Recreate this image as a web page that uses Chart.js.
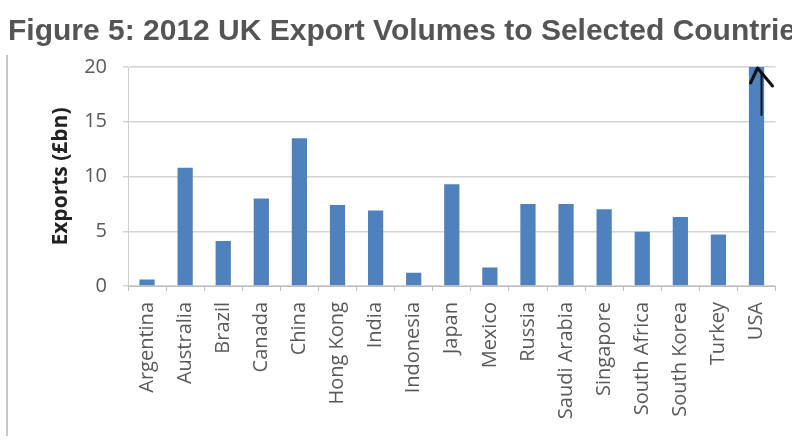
<!DOCTYPE html>
<html>
<head>
<meta charset="utf-8">
<script src="https://cdn.jsdelivr.net/npm/chart.js@4/dist/chart.umd.min.js"></script>
<style>
  html, body { margin: 0; padding: 0; background: #fff; }
  #wrap { width: 792px; height: 444px; position: relative; }
</style>
</head>
<body>
<div id="wrap"><canvas id="exportChart" width="792" height="444"></canvas></div>
<script>
const titleText = "Figure 5: 2012 UK Export Volumes to Selected Countries";
const countries = ["Argentina", "Australia", "Brazil", "Canada", "China", "Hong Kong", "India",
  "Indonesia", "Japan", "Mexico", "Russia", "Saudi Arabia", "Singapore", "South Africa",
  "South Korea", "Turkey", "USA"];
const exports2012 = [0.6, 10.8, 4.1, 8.0, 13.5, 7.4, 6.9, 1.2, 9.3, 1.7, 7.5, 7.5, 7.0, 4.95, 6.3, 4.7, 20];
const yTicks = [0, 5, 10, 15, 20];
const axisTitle = "Exports (£bn)";

const barBlue = "#4f81bd";
const labelGrey = "#595959";

// title, left frame line and the hand drawn arrow on the USA bar
const extras = {
  id: "extras",
  afterDraw(chart) {
    const ctx = chart.ctx;
    ctx.save();
    ctx.fillStyle = "#555555";
    ctx.font = "bold 30px 'Liberation Sans', Arial, sans-serif";
    ctx.textBaseline = "alphabetic";
    ctx.textAlign = "left";
    ctx.fillText(titleText, 8, 40);

    ctx.strokeStyle = "#c8c8c8";
    ctx.lineWidth = 2;
    ctx.beginPath();
    ctx.moveTo(7, 55);
    ctx.lineTo(7, 436);
    ctx.stroke();

    const last = countries.length - 1;
    const cx = chart.scales.x.getPixelForValue(last);
    const top = chart.scales.y.getPixelForValue(exports2012[last]);
    ctx.strokeStyle = "#111";
    ctx.lineWidth = 3;
    ctx.lineCap = "round";
    ctx.lineJoin = "round";
    ctx.beginPath();
    ctx.moveTo(cx - 6, top + 16);
    ctx.lineTo(cx + 1, top + 1);
    ctx.lineTo(cx + 16, top + 19);
    ctx.stroke();
    ctx.lineWidth = 2;
    ctx.beginPath();
    ctx.moveTo(cx + 5, top + 6);
    ctx.lineTo(cx + 5, top + 48);
    ctx.stroke();
    ctx.restore();
  }
};

new Chart(document.getElementById("exportChart"), {
  type: "bar",
  data: {
    labels: countries,
    datasets: [{
      data: exports2012,
      backgroundColor: barBlue,
      borderWidth: 0,
      barPercentage: 0.4,
      categoryPercentage: 1
    }]
  },
  options: {
    responsive: false,
    animation: false,
    events: [],
    layout: { padding: { top: 67, left: 8, right: 16, bottom: 0 } },
    plugins: {
      legend: { display: false },
      tooltip: { enabled: false },
      title: { display: false }
    },
    scales: {
      x: {
        afterFit: (s) => { s.height = 158; },
        grid: {
          display: true,
          drawOnChartArea: false,
          drawTicks: true,
          tickLength: 5,
          color: "#bfbfbf",
          offset: true
        },
        border: { color: "#bfbfbf", width: 1 },
        ticks: {
          autoSkip: false,
          minRotation: 90,
          maxRotation: 90,
          padding: 11,
          color: labelGrey,
          font: { family: "'Open Sans', sans-serif", size: 20 }
        }
      },
      y: {
        min: 0,
        max: 20,
        afterFit: (s) => { s.width = 120; },
        afterBuildTicks: (s) => { s.ticks = yTicks.map(v => ({ value: v })); },
        grid: {
          color: "#d4d4d4",
          lineWidth: 1.5,
          tickLength: 5
        },
        border: { color: "#cfcfcf", width: 1 },
        ticks: {
          padding: 16,
          color: labelGrey,
          font: { family: "'Open Sans', sans-serif", size: 20 }
        },
        title: {
          display: true,
          text: axisTitle,
          color: "#222",
          padding: { top: 40, bottom: 0 },
          font: { family: "'Open Sans', sans-serif", size: 21, weight: "bold" }
        }
      }
    }
  },
  plugins: [extras]
});
</script>
</body>
</html>
